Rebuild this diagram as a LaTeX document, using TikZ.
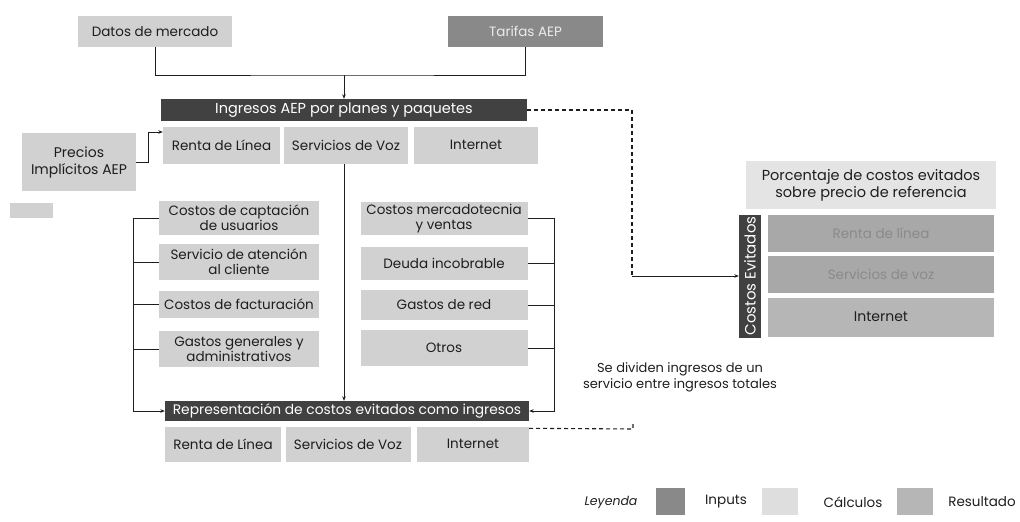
\documentclass[tikz,border=0pt]{standalone}
\usepackage{fontspec}
\setmainfont{Poppins}
\usetikzlibrary{arrows.meta}
\definecolor{lightbox}{HTML}{D1D1D1}
\definecolor{palebox}{HTML}{E4E4E4}
\definecolor{darkbar}{HTML}{414141}
\definecolor{inputbox}{HTML}{898989}
\definecolor{hatchbox}{HTML}{A8A8A8}
\definecolor{hatchtext}{HTML}{8A8A8A}
\definecolor{resbox}{HTML}{B6B6B6}
\definecolor{ink}{HTML}{1E1E1E}
\tikzset{
  bx/.style={fill=lightbox, inner sep=0pt, align=center, text=ink,
    font=\fontsize{13.5}{15}\selectfont},
  barbox/.style={fill=darkbar, inner sep=0pt, align=center, text=white,
    font=\fontsize{14}{15}\selectfont},
  conn/.style={draw=ink, line width=0.9pt},
  arr/.style={conn, -{Stealth[length=4.5pt,width=3.6pt]}},
  dashconn/.style={draw=ink, line width=1.1pt, dash pattern=on 4pt off 3pt},
  lbl/.style={inner sep=0pt, align=center, text=ink, font=\fontsize{13}{16}\selectfont}
}
\begin{document}
\begin{tikzpicture}[x=1pt,y=-1pt]
\useasboundingbox (0,0) rectangle (1020,522);
% top inputs
\node[bx, minimum width=154pt, minimum height=31pt] (datos) at (155,31.5) {Datos de mercado};
\node[bx, fill=inputbox, text=white!92!black, minimum width=155pt, minimum height=31pt] (tarifas) at (525.5,31.5) {Tarifas AEP};
% ingresos bar
\node[barbox, font=\fontsize{14.5}{15}\selectfont, minimum width=366pt, minimum height=22pt] (ingresos) at (344,110) {Ingresos AEP por planes y paquetes};
\node[bx, minimum width=117pt, minimum height=37pt] (r1) at (221.5,145) {Renta de Línea};
\node[bx, minimum width=124pt, minimum height=37pt] (s1) at (346,145) {Servicios de Voz};
\node[bx, minimum width=124pt, minimum height=37pt] (i1) at (476,145) {Internet};
% precios
\node[bx, font=\fontsize{14}{17}\selectfont, minimum width=114pt, minimum height=58pt] (precios) at (79,162) {Precios\\Implícitos AEP};
\node[bx, minimum width=43pt, minimum height=15pt] (small) at (31.5,210.5) {};
% left costs
\node[bx, minimum width=160pt, minimum height=34pt] (c1) at (239,218) {Costos de captación\\de usuarios};
\node[bx, minimum width=160pt, minimum height=36pt] (c2) at (239,262) {Servicio de atención\\al cliente};
\node[bx, minimum width=160pt, minimum height=27pt] (c3) at (239,304) {Costos de facturación};
\node[bx, minimum width=160pt, minimum height=36pt] (c4) at (239,349) {Gastos generales y\\administrativos};
% right costs
\node[bx, minimum width=167pt, minimum height=33pt] (d1) at (444,218.5) {Costos mercadotecnia\\y ventas};
\node[bx, minimum width=167pt, minimum height=33pt] (d2) at (444,263) {Deuda incobrable};
\node[bx, minimum width=167pt, minimum height=30pt] (d3) at (444,305) {Gastos de red};
\node[bx, minimum width=167pt, minimum height=36pt] (d4) at (444,348) {Otros};
% representacion bar
\node[barbox, font=\fontsize{13.8}{15}\selectfont, minimum width=364pt, minimum height=20pt] (repr) at (347,411) {Representación de costos evitados como ingresos};
\node[bx, minimum width=116pt, minimum height=35pt] (r2) at (223,444) {Renta de Línea};
\node[bx, minimum width=125pt, minimum height=35pt] (s2) at (348,444) {Servicios de Voz};
\node[bx, minimum width=112pt, minimum height=35pt] (i2) at (473,444) {Internet};
% right panel
\node[bx, fill=palebox, font=\fontsize{14.5}{17}\selectfont, minimum width=250pt, minimum height=48pt] (porc) at (871,185) {Porcentaje de costos evitados\\sobre precio de referencia};
\node[barbox, minimum width=22pt, minimum height=123pt] (ce) at (750,276) {};
\node[text=white, inner sep=0pt, font=\fontsize{15}{16}\selectfont, rotate=90] (cetxt) at (ce.center) {Costos Evitados};
\node[bx, fill=hatchbox, text=hatchtext, minimum width=226pt, minimum height=37pt] (rr) at (881,233.5) {Renta de línea};
\node[bx, fill=hatchbox, text=hatchtext, minimum width=226pt, minimum height=37pt] (rs) at (881,274.5) {Servicios de voz};
\node[bx, fill=resbox, font=\fontsize{14}{15}\selectfont, minimum width=226pt, minimum height=39pt] (ri) at (881,317) {Internet};
% note text
\node[lbl] (nota) at (680,377) {Se dividen ingresos de un\\servicio entre ingresos totales};
% legend
\node[lbl, font=\fontsize{12.5}{13}\selectfont\itshape] (leyenda) at (611,502) {Leyenda};
\node[bx, fill=inputbox, minimum width=29pt, minimum height=27pt] (lg1) at (670.5,501.5) {};
\node[lbl, font=\fontsize{13.5}{14}\selectfont] (lginp) at (726,502) {Inputs};
\node[bx, fill=palebox!70!lightbox, minimum width=36pt, minimum height=27pt] (lg2) at (780,501.5) {};
\node[lbl, font=\fontsize{13.5}{14}\selectfont] (lgcal) at (853,502) {Cálculos};
\node[bx, fill=resbox, minimum width=36pt, minimum height=27pt] (lg3) at (915,501.5) {};
\node[lbl, font=\fontsize{13.5}{14}\selectfont] (lgres) at (982,502) {Resultado};
% connectors
\coordinate (jn) at (344,75);
\draw[conn] (datos.south) |- (jn) -| (tarifas.south);
\draw[arr] (jn) -- (ingresos.north);
\draw[arr] (precios.east) -- ++(12,0) |- ([yshift=13pt]r1.west);
\draw[arr] (ingresos.south |- s1.south) -- (ingresos.south |- repr.north);
% left bracket
\coordinate (lb) at (133,218);
\draw[arr] (c1.west) -- (lb) |- (repr.west);
\draw[conn] (c2.west) -- (c2.west -| lb);
\draw[conn] (c3.west) -- (c3.west -| lb);
\draw[conn] (c4.west) -- (c4.west -| lb);
% right bracket
\coordinate (rb) at (554,218.5);
\draw[arr] (d1.east) -- (rb) |- (repr.east);
\draw[conn] (d2.east) -- (d2.east -| rb);
\draw[conn] (d3.east) -- (d3.east -| rb);
\draw[conn] (d4.east) -- (d4.east -| rb);
% dashed links
\coordinate (dj) at (632,276);
\draw[dashconn] (ingresos.east) -| (dj);
\draw[arr] (dj) -- (ce.west);
\coordinate (bdj) at (633,429);
\draw[dashconn] ([yshift=-2pt]i2.north east) -- (bdj) -- ++(0,-5);
\end{tikzpicture}
\end{document}
